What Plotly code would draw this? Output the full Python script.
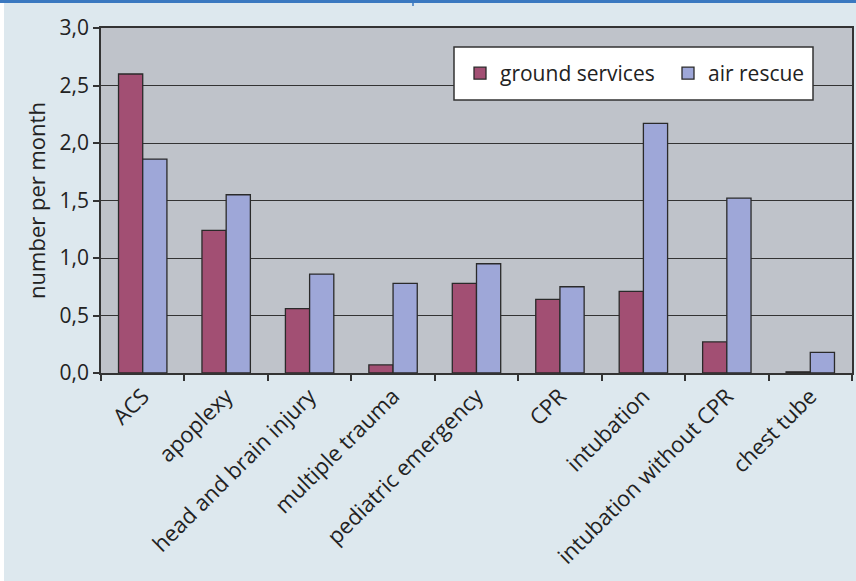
import plotly.graph_objects as go

categories = ["ACS", "apoplexy", "head and brain injury", "multiple trauma",
              "pediatric emergency", "CPR", "intubation", "intubation without CPR",
              "chest tube"]
ground_services = [2.60, 1.24, 0.56, 0.07, 0.78, 0.64, 0.71, 0.27, 0.01]
air_rescue = [1.86, 1.55, 0.86, 0.78, 0.95, 0.75, 2.17, 1.52, 0.18]

W, H = 856, 581
ML, MR, MT, MB = 101, 4, 28, 208
PW, PH = W - ML - MR, H - MT - MB

FONT = "Open Sans"

fig = go.Figure()
fig.add_trace(go.Bar(name="ground services", x=categories, y=ground_services,
                     marker=dict(color="#A24F73", line=dict(color="#2a2a2a", width=1.3))))
fig.add_trace(go.Bar(name="air rescue", x=categories, y=air_rescue,
                     marker=dict(color="#9EA7D8", line=dict(color="#2a2a2a", width=1.3))))

def px_x(p):
    return (p - ML) / PW

def px_y(p):
    return 1 - (p - MT) / PH

fig.update_layout(
    width=W, height=H,
    margin=dict(l=ML, r=MR, t=MT, b=MB, pad=0, autoexpand=False),
    paper_bgcolor="#DDE8EE",
    plot_bgcolor="#BFC3CA",
    separators=", ",
    barmode="group",
    bargap=0.42,
    bargroupgap=0,
    font=dict(family=FONT, size=21, color="#222222"),
    showlegend=True,
    legend=dict(orientation="h", x=px_x(460), y=px_y(73.5), xanchor="left", yanchor="middle",
                bgcolor="rgba(0,0,0,0)", borderwidth=0,
                font=dict(family=FONT, size=21, color="#222222"),
                itemwidth=30, tracegroupgap=0, entrywidth=163, entrywidthmode="pixels"),
    xaxis=dict(showgrid=False, showline=True, mirror=True, linecolor="#333333", linewidth=1.5,
               ticks="outside", tickson="boundaries", ticklen=6, tickcolor="#333333",
               tickwidth=1.5, tickangle=-45, tickfont=dict(family=FONT, size=22)),
    yaxis=dict(range=[0, 3.0], dtick=0.5, tickformat=".1f", showgrid=True,
               gridcolor="#333333", gridwidth=1.3, showline=True, mirror=True,
               linecolor="#333333", linewidth=1.5, ticks="outside", ticklen=6,
               tickcolor="#333333", tickwidth=1.5, zeroline=False,
               tickfont=dict(family=FONT, size=21),
               title=dict(text="number per month", font=dict(family=FONT, size=22), standoff=8)),
    shapes=[
        dict(type="rect", xref="paper", yref="paper", x0=px_x(0), x1=px_x(4), y0=px_y(H), y1=px_y(0),
             fillcolor="white", line=dict(width=0), layer="below"),
        dict(type="rect", xref="paper", yref="paper", x0=px_x(0), x1=px_x(W), y0=px_y(3), y1=px_y(0),
             fillcolor="#3A78C0", line=dict(width=0), layer="above"),
        dict(type="line", xref="paper", yref="paper", x0=px_x(413), x1=px_x(413), y0=px_y(6), y1=px_y(0),
             line=dict(color="#3A78C0", width=1.5), layer="above"),
        dict(type="rect", xref="paper", yref="paper", x0=px_x(454), x1=px_x(813), y0=px_y(100), y1=px_y(47),
             fillcolor="white", line=dict(color="#333333", width=1.5), layer="above"),
    ],
)

fig.write_html("out.html")
